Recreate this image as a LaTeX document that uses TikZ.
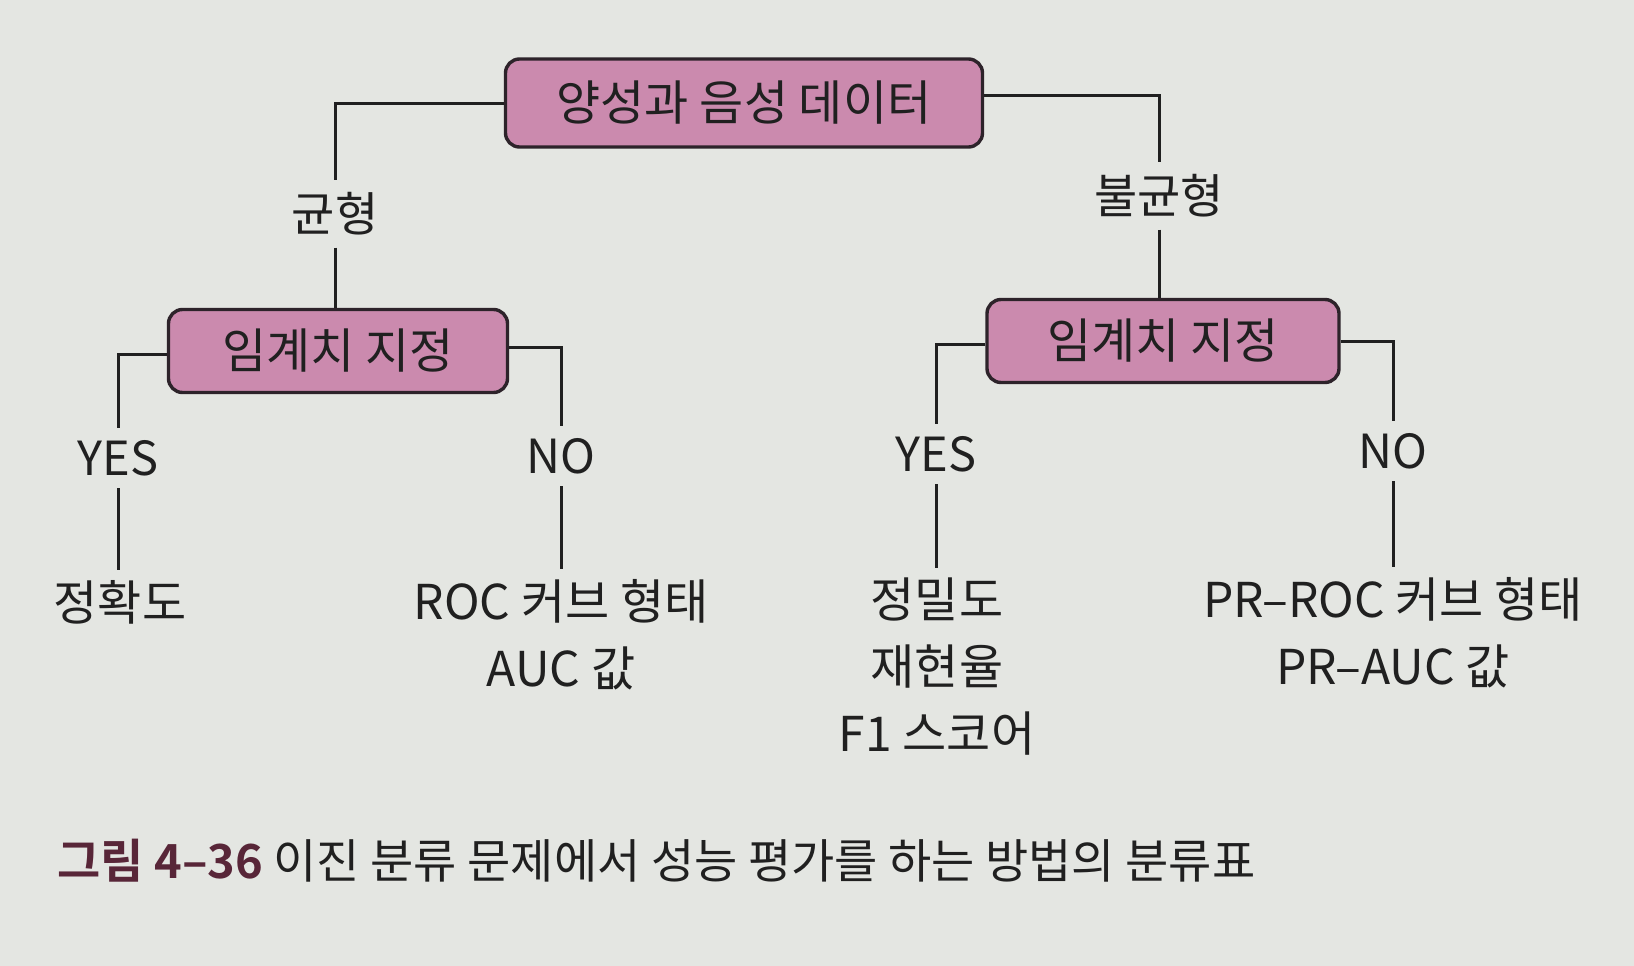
\documentclass[tikz,border=0pt]{standalone}
\usepackage{fontspec}
\newfontfamily\kr{Noto Sans CJK KR}
\newfontfamily\krb{Noto Sans CJK KR Bold}
\definecolor{bgc}{RGB}{228,230,226}
\definecolor{boxfill}{RGB}{203,138,174}
\definecolor{boxline}{RGB}{45,35,42}
\definecolor{ink}{RGB}{32,32,32}
\definecolor{capred}{RGB}{88,38,56}
\tikzset{
  mainbox/.style={draw=boxline, line width=3.4pt, fill=boxfill, rounded corners=14pt,
    font=\kr\fontsize{48}{56}\selectfont, text=ink, inner sep=0pt},
  lbl/.style={font=\kr\fontsize{47}{56}\selectfont, text=ink, inner sep=12pt},
  leaf/.style={font=\kr\fontsize{48}{67}\selectfont, text=ink, align=center, inner sep=10pt},
  conn/.style={draw=ink, line width=3pt}
}
\begin{document}
\begin{tikzpicture}[x=1pt,y=-1pt]
\fill[bgc] (0,0) rectangle (1634,966);
\useasboundingbox (0,0) rectangle (1634,966);

\node[mainbox, minimum width=477pt, minimum height=88pt] (top) at (744,103) {양성과 음성 데이터};
\node[mainbox, minimum width=339pt, minimum height=83pt] (midL) at (338,351) {임계치 지정};
\node[mainbox, minimum width=352pt, minimum height=83pt] (midR) at (1163,341) {임계치 지정};

\node[lbl] (gyun) at (335,214) {균형};
\node[lbl] (bul) at (1159,196) {불균형};

\node[lbl] (yesL) at (118,458) {YES};
\node[lbl] (noL) at (561,456) {NO};
\node[lbl] (yesR) at (936,454) {YES};
\node[lbl] (noR) at (1393,451) {NO};

\node[leaf] (accL) at (120,602) {정확도};
\node[leaf] (rocL) at (561,635) {ROC 커브 형태\\AUC 값};
\node[leaf] (precR) at (937,667) {정밀도\\재현율\\F1 스코어};
\node[leaf] (prR) at (1393,633) {PR–ROC 커브 형태\\PR–AUC 값};

\draw[conn] (top.west) -| (gyun.north);
\draw[conn] (gyun.south) -- (gyun.south |- midL.north);
\draw[conn] ([yshift=7pt]top.east) -| (bul.north);
\draw[conn] (bul.south) -- (bul.south |- midR.north);

\draw[conn] ([yshift=-3pt]midL.west) -| (yesL.north);
\draw[conn] ([yshift=4pt]midL.east) -| (noL.north);
\draw[conn] ([yshift=-3pt]midR.west) -| (yesR.north);
\draw[conn] (midR.east) -| (noR.north);

\draw[conn] (yesL.south) -- (yesL.south |- accL.north);
\draw[conn] (noL.south) -- (noL.south |- rocL.north);
\draw[conn] (yesR.south) -- (yesR.south |- precR.north);
\draw[conn] (noR.south) -- (noR.south |- prR.north);

\node[anchor=west, inner sep=0pt, text=ink, font=\kr\fontsize{47}{56}\selectfont] (cap) at (57,861)
  {{\krb\color{capred}그림 4–36}\ 이진 분류 문제에서 성능 평가를 하는 방법의 분류표};
\end{tikzpicture}
\end{document}
